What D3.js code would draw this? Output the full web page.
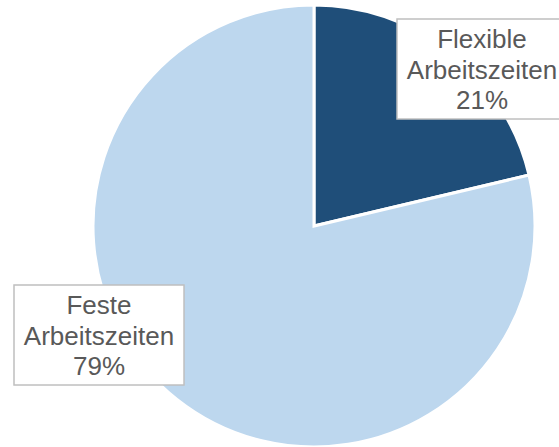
<!DOCTYPE html>
<html>
<head>
<meta charset="utf-8">
<script src="https://cdn.jsdelivr.net/npm/d3@7"></script>
<style>
  body { margin: 0; background: #fff; }
  svg { display: block; }
</style>
</head>
<body>
<div class="canvas"></div>
<script>
// data
const categories = ['Flexible Arbeitszeiten', 'Feste Arbeitszeiten']
const labelLines = [['Flexible', 'Arbeitszeiten'], ['Feste', 'Arbeitszeiten']]
const shares = [21.3, 78.7]
const colours = ['#1f4e79', '#bdd7ee']

const width = 559
const height = 447

const svg = d3.select('.canvas')
  .append('svg')
    .attr('width', width)
    .attr('height', height)

const dims = { radius: 221 }
const cent = { x: 314, y: 226 }

const graph = svg.append('g')
  .attr('transform', `translate(${cent.x}, ${cent.y})`)

const data = categories.map((c, i) => ({ name: c, lines: labelLines[i], value: shares[i] }))

const pie = d3.pie()
  .sort(null)
  .value(d => d.value)

const arcPath = d3.arc()
  .outerRadius(dims.radius)
  .innerRadius(0)

const colour = d3.scaleOrdinal()
  .domain(categories)
  .range(colours)

graph.selectAll('path')
  .data(pie(data))
  .enter()
  .append('path')
    .attr('d', arcPath)
    .attr('fill', d => colour(d.data.name))
    .attr('stroke', '#fff')
    .attr('stroke-width', 3)
    .attr('stroke-linejoin', 'miter')

// label boxes (centres relative to pie centre)
const labelBox = { w: 170, h: 100, lineH: 30.5 }
const labelOffsets = [[168, -157], [-215, 109]]

const labels = graph.selectAll('g.label')
  .data(pie(data))
  .enter()
  .append('g')
    .attr('class', 'label')
    .attr('transform', (d, i) => `translate(${labelOffsets[i][0]}, ${labelOffsets[i][1]})`)

labels.append('rect')
  .attr('x', -labelBox.w / 2)
  .attr('y', -labelBox.h / 2)
  .attr('width', labelBox.w)
  .attr('height', labelBox.h)
  .attr('fill', '#fff')
  .attr('stroke', '#bfbfbf')
  .attr('stroke-width', 1.5)

labels.each(function (d) {
  const lines = d.data.lines.concat([Math.round(d.data.value) + '%'])
  const t = d3.select(this).append('text')
    .attr('text-anchor', 'middle')
    .attr('font-family', 'Liberation Sans, Arial, sans-serif')
    .attr('font-size', 26)
    .attr('fill', '#595959')
  lines.forEach((line, j) => {
    t.append('tspan')
      .attr('x', 0)
      .attr('y', (j - 1) * labelBox.lineH + 9.5)
      .text(line)
  })
})
</script>
</body>
</html>
